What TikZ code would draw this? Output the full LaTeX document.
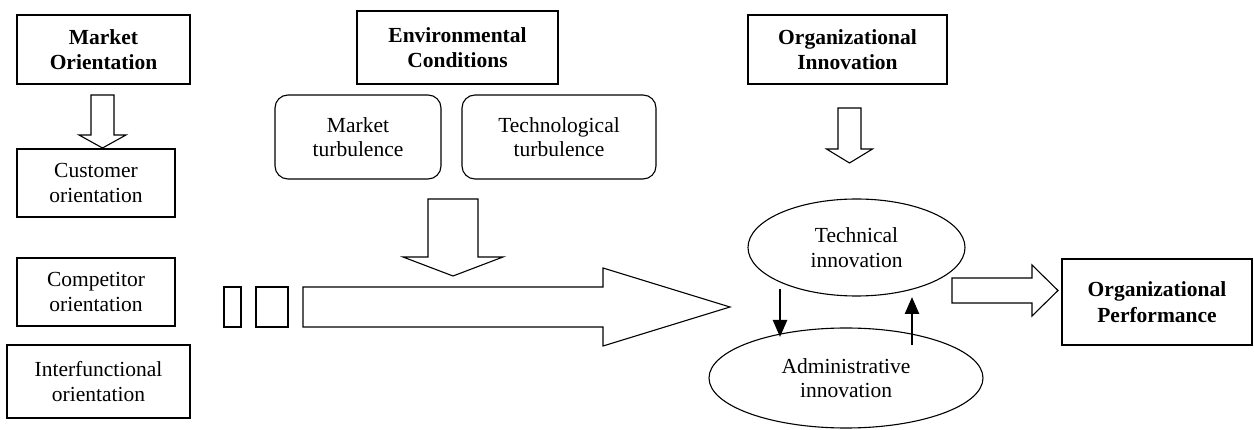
\documentclass[tikz,border=0pt]{standalone}
\usepackage{fontspec}
\setmainfont{Liberation Serif}
\usetikzlibrary{arrows.meta,shapes.geometric}
\tikzset{
  x=1pt,y=-1pt,
  every node/.style={font=\fontsize{21.5}{24.5}\selectfont},
  plainbox/.style={draw,line width=1.1pt,inner sep=0pt,align=center,anchor=center},
  titlebox/.style={plainbox,font=\fontsize{21.5}{25.5}\selectfont\bfseries},
  roundbox/.style={plainbox,rounded corners=13pt},
  ellbox/.style={draw,line width=1.1pt,ellipse,inner sep=0pt,align=center},
  hollow/.style={draw,line width=1.1pt,fill=white,line join=miter},
  thinarrow/.style={line width=2.5pt,-{Triangle[length=17pt,width=14pt]}}
}
\newcommand\hdownarrow[6]{% cx, ytop, ywing, ytip, halfshaft, halfwing
  \draw[hollow] (#1-#5,#2) -- (#1+#5,#2) -- (#1+#5,#3) -- (#1+#6,#3) -- (#1,#4)
    -- (#1-#6,#3) -- (#1-#5,#3) -- cycle;}
\begin{document}
\begin{tikzpicture}
\useasboundingbox (0,0) rectangle (1254,430);
% left column
\node[titlebox,minimum width=173pt,minimum height=69pt] (mo) at (103.5,49.5) {Market\\Orientation};
\node[plainbox,minimum width=158pt,minimum height=68pt] (cust) at (96,183) {Customer\\orientation};
\node[plainbox,minimum width=158pt,minimum height=68pt] (comp) at (96,292) {Competitor\\orientation};
\node[plainbox,minimum width=183pt,minimum height=73pt] (inter) at (98.5,381.5) {Interfunctional\\orientation};
% environment
\node[titlebox,minimum width=201pt,minimum height=73pt] (env) at (457.5,47.5) {Environmental\\Conditions};
\node[roundbox,minimum width=166pt,minimum height=84pt] (mt) at (358,137) {Market\\turbulence};
\node[roundbox,minimum width=194pt,minimum height=84pt] (tt) at (559,137) {Technological\\turbulence};
% innovation
\node[titlebox,minimum width=199pt,minimum height=69pt] (oi) at (847.5,49.5) {Organizational\\Innovation};
\node[ellbox,minimum width=217pt,minimum height=97pt] (tech) at (856.5,247.5) {Technical\\innovation};
\node[ellbox,minimum width=274pt,minimum height=100pt] (adm) at (846,378) {Administrative\\innovation};
\node[titlebox,minimum width=190pt,minimum height=86pt] (op) at (1157,302) {Organizational\\Performance};
% hollow down arrows
\hdownarrow{102.5}{95}{135}{148}{11.5}{23.5}
\hdownarrow{453}{199}{257}{276}{25}{50}
\hdownarrow{849.5}{108}{149}{163}{11.5}{23}
% dashed-like big arrow
\draw[hollow] (224,287) rectangle (241,327);
\draw[hollow] (256,287) rectangle (288,327);
\draw[hollow] (303,287) -- (603,287) -- (603,268) -- (730,307) -- (603,346) -- (603,327) -- (303,327) -- cycle;
% arrow to performance
\draw[hollow] (952,278) -- (1032,278) -- (1032,265) -- (1058,290.5) -- (1032,316) -- (1032,303) -- (952,303) -- cycle;
% thin arrows between ellipses
\coordinate (d1) at (780,289);
\coordinate (d2) at (780,337);
\coordinate (u1) at (912,345);
\coordinate (u2) at (912,297);
\draw[thinarrow] (d1) -- (d2);
\draw[thinarrow] (u1) -- (u2);
\end{tikzpicture}
\end{document}
